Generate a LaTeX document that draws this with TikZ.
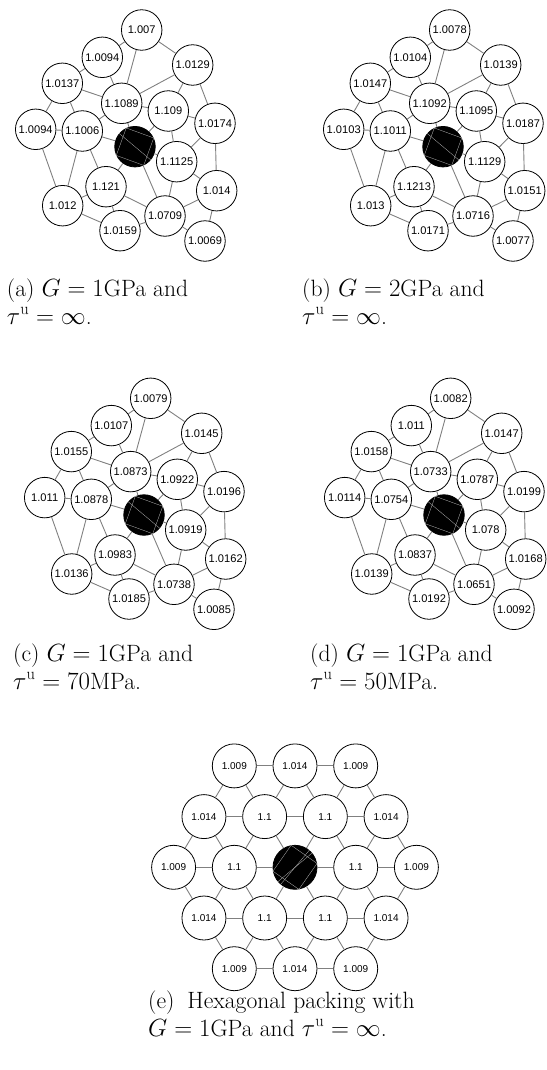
\documentclass[tikz,border=0pt]{standalone}
\usepackage{fontspec}
\newfontfamily\valuefont{Liberation Sans}

% offsets of the sixteen grains round the hard one
\def\grainx{{6.7,-32.7,57.7,-72.7,-13.3,33.3,80,-99.3,-52.7,41.7,-29,81.7,-72.3,30,-15,70}}
\def\grainy{{-116.7,-89.4,-81.7,-63.4,-43.4,-35.7,-23.4,-17.4,-15.7,15,40,44,59,69.3,84,94.3}}

\newcommand{\grainpanel}[3]{%
  \begin{scope}[shift={#2}]
    \node[core] (#1c) at (0,0) {};
    \draw[scratch] (#1c.140) -- (#1c.-40);
    \draw[scratch] (#1c.115) -- (#1c.25) -- (#1c.-65) -- (#1c.-155) -- cycle;
    \foreach \v [count=\n from 0] in {#3} {
      \pgfmathsetmacro\px{\grainx[\n]}
      \pgfmathsetmacro\py{\grainy[\n]}
      \node[grain] (#1\n) at (\px,\py) {\v};
    }
    \foreach \p/\q in {0/1,0/2,0/4,1/3,1/4,2/4,2/5,2/6,3/4,3/7,3/8,4/5,4/8,4/c,
                       5/c,5/6,5/9,6/9,6/11,7/8,7/12,8/c,8/12,8/10,c/9,c/10,c/13,
                       9/13,9/11,10/12,10/14,10/13,12/14,14/13,13/11,13/15,11/15}
      \draw[link] (#1\p) -- (#1\q);
  \end{scope}
}

\begin{document}
\begin{tikzpicture}[x=1pt,y=-1pt,
    grain/.style={circle,draw=black,line width=0.8pt,fill=white,
      minimum size=40.5pt,inner sep=0pt,
      font=\valuefont\fontsize{11.1}{12}\selectfont},
    core/.style={grain,fill=black},
    hexgrain/.style={grain,minimum size=44pt,
      font=\valuefont\fontsize{10}{11}\selectfont},
    hexcore/.style={hexgrain,fill=black},
    scratch/.style={gray!55,line width=0.3pt},
    link/.style={gray,line width=0.9pt},
    caption/.style={anchor=base west,align=left,inner sep=0pt,
      font=\fontsize{23.6}{27.3}\selectfont}]
  \useasboundingbox (0,0) rectangle (546,1070);

  \grainpanel{a}{(135,146.7)}{1.007,1.0094,1.0129,1.0137,1.1089,1.109,1.0174,1.0094,
    1.1006,1.1125,1.121,1.014,1.012,1.0709,1.0159,1.0069}
  \grainpanel{b}{(443,146.7)}{1.0078,1.0104,1.0139,1.0147,1.1092,1.1095,1.0187,1.0103,
    1.1011,1.1129,1.1213,1.0151,1.013,1.0716,1.0171,1.0077}
  \grainpanel{c}{(144,515)}{1.0079,1.0107,1.0145,1.0155,1.0873,1.0922,1.0196,1.011,
    1.0878,1.0919,1.0983,1.0162,1.0136,1.0738,1.0185,1.0085}
  \grainpanel{d}{(444,515)}{1.0082,1.011,1.0147,1.0158,1.0733,1.0787,1.0199,1.0114,
    1.0754,1.078,1.0837,1.0168,1.0139,1.0651,1.0192,1.0092}

  \node[caption] (capa) at (6.7,324) {(a) $G=1$GPa and\\$\tau^{\mathrm{u}}=\infty$.};
  \node[caption] (capb) at (302,324) {(b) $G=2$GPa and\\$\tau^{\mathrm{u}}=\infty$.};
  \node[caption] (capc) at (13,689) {(c) $G=1$GPa and\\$\tau^{\mathrm{u}}=70$MPa.};
  \node[caption] (capd) at (310,689) {(d) $G=1$GPa and\\$\tau^{\mathrm{u}}=50$MPa.};

  % hexagonal packing
  \begin{scope}[shift={(295,867.3)}]
    \foreach \r/\n/\vals in {1/3/{1.009,1.014,1.009},2/4/{1.014,1.1,1.1,1.014},
        3/5/{1.009,1.1,-,1.1,1.009},4/4/{1.014,1.1,1.1,1.014},5/3/{1.009,1.014,1.009}}
      \foreach \v [count=\k] in \vals {
        \ifnum\r\k=33
          \node[hexcore] (e\r\k) at ({(\k-(\n+1)/2)*60.7},{(\r-3)*50.7}) {};
        \else
          \node[hexgrain] (e\r\k) at ({(\k-(\n+1)/2)*60.7},{(\r-3)*50.7}) {\v};
        \fi
      }
    \draw[scratch] (e33.-130) -- (e33.50);
    \draw[scratch] (e33.-140) -- (e33.40);
    \draw[scratch] (e33.100) -- (e33.10) -- (e33.-80) -- (e33.-170) -- cycle;
    % rows
    \foreach \r/\n in {1/2,2/3,3/4,4/3,5/2}
      \foreach \k in {1,...,\n} {
        \pgfmathtruncatemacro\j{\k+1}
        \draw[link] (e\r\k) -- (e\r\j);
      }
    % between rows
    \foreach \a/\b/\n in {1/2/3,2/3/4,4/3/4,5/4/3}
      \foreach \k in {1,...,\n} {
        \pgfmathtruncatemacro\j{\k+1}
        \draw[link] (e\a\k) -- (e\b\k);
        \draw[link] (e\a\k) -- (e\b\j);
      }
  \end{scope}

  \node[caption] (cape) at (148,1036) {(e)\hspace{0.55em}Hexagonal packing with\\$G=1$GPa and $\tau^{\mathrm{u}}=\infty$.};
\end{tikzpicture}
\end{document}
